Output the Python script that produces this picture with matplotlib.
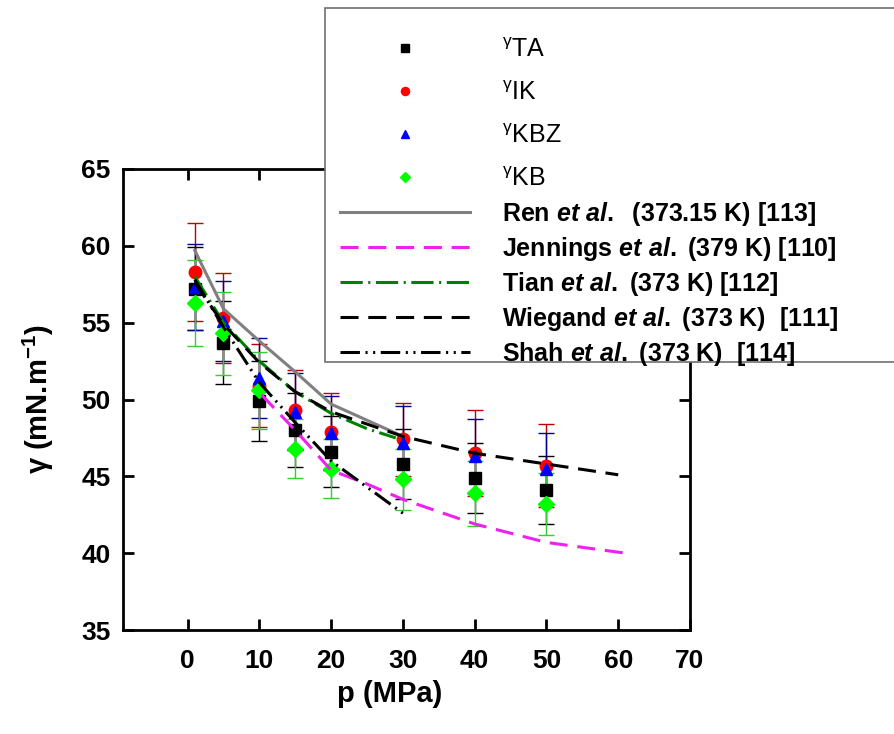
import matplotlib
matplotlib.use("Agg")
import matplotlib.pyplot as plt
from matplotlib.ticker import MultipleLocator
from matplotlib.patches import Rectangle

plt.rcParams['font.family'] = ['Liberation Sans', 'DejaVu Sans']
plt.rcParams['mathtext.fontset'] = 'custom'
plt.rcParams['mathtext.rm'] = 'Liberation Sans:bold'
plt.rcParams['mathtext.it'] = 'Liberation Sans:bold:italic'
plt.rcParams['mathtext.bf'] = 'Liberation Sans:bold'
plt.rcParams['mathtext.sf'] = 'Liberation Sans'
plt.rcParams['lines.scale_dashes'] = False

# ---- data ----
p = [1, 5, 10, 15, 20, 30, 40, 50]
gamma_TA = [57.2, 53.7, 49.9, 48.0, 46.6, 45.8, 44.9, 44.1]
gamma_TA_err = [2.7, 2.7, 2.6, 2.4, 2.3, 2.3, 2.3, 2.2]
gamma_IK = [58.3, 55.3, 50.9, 49.3, 47.9, 47.4, 46.5, 45.7]
gamma_IK_err = [3.2, 2.9, 2.7, 2.6, 2.5, 2.4, 2.8, 2.7]
gamma_KBZ = [57.3, 55.1, 51.4, 49.2, 47.8, 47.2, 46.3, 45.5]
gamma_KBZ_err = [2.8, 2.6, 2.6, 2.5, 2.4, 2.4, 2.4, 2.3]
gamma_KB = [56.3, 54.3, 50.6, 46.8, 45.5, 44.8, 43.9, 43.2]
gamma_KB_err = [2.8, 2.7, 2.5, 1.9, 1.9, 2.0, 2.1, 2.0]

ren_p = [1, 5, 10, 15, 20, 30]
ren = [59.7, 55.9, 53.8, 51.8, 49.7, 47.6]
jen_p = [10.3, 15, 20, 25, 30, 40, 50, 61]
jen = [50.3, 48.0, 45.4, 44.5, 43.5, 41.9, 40.7, 40.0]
tian_p = [1, 5, 10, 15, 20, 25, 29]
tian = [58.0, 55.0, 52.5, 50.5, 49.1, 48.1, 47.5]
wie_p = [1, 5, 10, 15, 20, 30, 40, 50, 60]
wie = [57.6, 54.9, 52.4, 50.5, 49.2, 47.6, 46.5, 45.8, 45.1]
shah_p = [1, 5, 10, 15, 20, 30]
shah = [57.8, 54.7, 51.1, 48.5, 46.0, 42.6]

series_labels = [r"$^{\mathsf{\gamma}}$TA", r"$^{\mathsf{\gamma}}$IK",
                 r"$^{\mathsf{\gamma}}$KBZ", r"$^{\mathsf{\gamma}}$KB"]
line_labels = [
    r"Ren $\mathit{et\ al.}$  (373.15 K) [113]",
    r"Jennings $\mathit{et\ al.}$ (379 K) [110]",
    r"Tian $\mathit{et\ al.}$ (373 K) [112]",
    r"Wiegand $\mathit{et\ al.}$ (373 K)  [111]",
    r"Shah $\mathit{et\ al.}$ (373 K)  [114]",
]

W, H = 894, 734
fig = plt.figure(figsize=(W/100, H/100), dpi=100)
ax = fig.add_axes([123/W, 1-630/H, (690-123)/W, (630-169)/H])

# error bars
err_specs = [
    (gamma_TA, gamma_TA_err, 'black'),
    (gamma_IK, gamma_IK_err, '#c00000'),
    (gamma_KBZ, gamma_KBZ_err, '#000090'),
    (gamma_KB, gamma_KB_err, '#33cc33'),
]
for vals, errs, c in err_specs:
    ax.errorbar(p, vals, yerr=errs, fmt='none', ecolor=c, elinewidth=1.0,
                capsize=6, capthick=1.0, zorder=2)

# markers
m_handles = []
m_handles += ax.plot(p, gamma_TA, ls='none', marker='s', ms=8, color='black', label=series_labels[0], zorder=3)
m_handles += ax.plot(p, gamma_IK, ls='none', marker='o', ms=9, color='#ff0000', label=series_labels[1], zorder=3)
m_handles += ax.plot(p, gamma_KBZ, ls='none', marker='^', ms=9, color='#0000ff', label=series_labels[2], zorder=3)
m_handles += ax.plot(p, gamma_KB, ls='none', marker='D', ms=8, color='#00ff00', label=series_labels[3], zorder=3)

# literature lines
l_handles = []
l_handles += ax.plot(ren_p, ren, color='#808080', lw=2.2, ls='-', label=line_labels[0], zorder=4)
l_handles += ax.plot(jen_p, jen, color='#ee22ee', lw=2.2, ls=(0, (13, 7)), label=line_labels[1], zorder=4)
l_handles += ax.plot(tian_p, tian, color='#008000', lw=2.2, ls=(0, (16, 4, 1.5, 4)), label=line_labels[2], zorder=4)
l_handles += ax.plot(wie_p, wie, color='black', lw=2.2, ls=(0, (13, 7)), label=line_labels[3], zorder=4)
l_handles += ax.plot(shah_p, shah, color='black', lw=2.2, ls=(0, (14, 4, 1.5, 4, 1.5, 4)), label=line_labels[4], zorder=4)

ax.set_xlim(-9, 70)
ax.set_ylim(35, 65)
ax.xaxis.set_major_locator(MultipleLocator(10))
ax.yaxis.set_major_locator(MultipleLocator(5))
ax.tick_params(direction='in', length=8, width=2, top=True, right=True,
               labelsize=19)
ax.tick_params(axis='x', pad=14)
ax.tick_params(axis='y', pad=9)
for lab in ax.get_xticklabels() + ax.get_yticklabels():
    lab.set_fontweight('bold')
for s in ax.spines.values():
    s.set_linewidth(2)

ax.set_xlabel("p (MPa)", fontsize=21, fontweight='bold')
ax.xaxis.set_label_coords((390-123)/567, -(680-630)/461)
ax.set_ylabel(r"γ (mN.m$^{-1}$)", fontsize=21, fontweight='bold')
ax.yaxis.set_label_coords(-(123-56)/567, 0.5)

# legend frame
frame = Rectangle((325/W, 1-362/H), (W+20-325)/W, (362-8)/H, transform=fig.transFigure,
                  facecolor='white', edgecolor='#707070', linewidth=1.2, zorder=4)
fig.add_artist(frame)

common = dict(loc='upper left', borderaxespad=0, borderpad=0, fontsize=18,
              handlelength=5.2, handletextpad=1.28, frameon=False, numpoints=1)
leg1 = fig.legend(handles=m_handles, bbox_to_anchor=(340/W, 1-38/H),
                  labelspacing=0.76, markerscale=0.65, **common)
leg2 = fig.legend(handles=l_handles, bbox_to_anchor=(340/W, 1-200/H),
                  labelspacing=0.28, **common)
leg1.set_zorder(5)
leg2.set_zorder(5)
for t in leg2.get_texts():
    t.set_fontweight('bold')

fig.savefig("out.png", dpi=100)
